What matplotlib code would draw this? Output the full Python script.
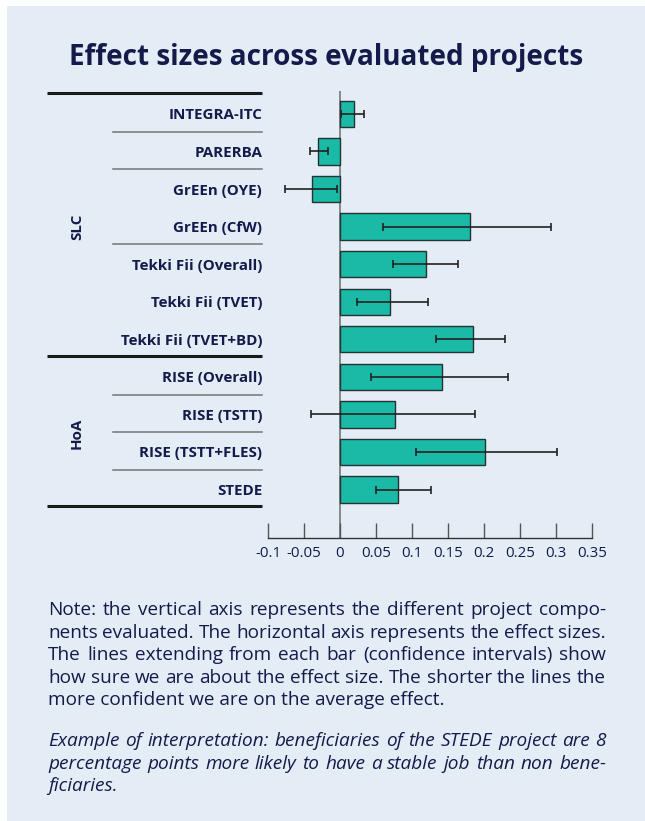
import numpy as np
import matplotlib
matplotlib.use('Agg')
import matplotlib.pyplot as plt
from matplotlib.patches import Rectangle
from matplotlib.transforms import blended_transform_factory

# data
labels = ['INTEGRA-ITC', 'PARERBA', 'GrEEn (OYE)', 'GrEEn (CfW)',
          'Tekki Fii (Overall)', 'Tekki Fii (TVET)', 'Tekki Fii (TVET+BD)',
          'RISE (Overall)', 'RISE (TSTT)', 'RISE (TSTT+FLES)', 'STEDE']
effect = [0.020, -0.030, -0.039, 0.180, 0.120, 0.070, 0.185, 0.141, 0.076, 0.201, 0.080]
ci_low = [0.001, -0.041, -0.076, 0.060, 0.074, 0.023, 0.134, 0.043, -0.040, 0.105, 0.050]
ci_high = [0.034, -0.016, -0.004, 0.293, 0.164, 0.122, 0.229, 0.233, 0.188, 0.301, 0.126]
group_names = ['SLC', 'HoA']
group_rows = [(0, 6), (7, 10)]
thin_after = [0, 1, 3, 7, 8, 9]      # thin separator lines below these rows
thick_after = [-1, 6, 10]            # thick lines
xticks = [-0.1, -0.05, 0, 0.05, 0.1, 0.15, 0.2, 0.25, 0.3, 0.35]
xtick_labels = ['-0.1', '-0.05', '0', '0.05', '0.1', '0.15', '0.2', '0.25', '0.3', '0.35']

title = 'Effect sizes across evaluated projects'
note_lines = [
    'Note: the vertical axis represents the different project compo-',
    'nents evaluated. The horizontal axis represents the effect sizes.',
    'The lines extending from each bar (confidence intervals) show',
    'how sure we are about the effect size. The shorter the lines the',
    'more confident we are on the average effect.',
]
example_lines = [
    'Example of interpretation: beneficiaries of the STEDE project are 8',
    'percentage points more likely to have a stable job than non bene-',
    'ficiaries.',
]

W, H = 645, 821
navy = '#141a4a'
teal = '#1abaa7'
bg = '#e4edf5'
plt.rcParams['font.family'] = ['Open Sans', 'Noto Sans', 'DejaVu Sans']

fig = plt.figure(figsize=(W / 100, H / 100), dpi=100)
fig.patches.append(Rectangle((7 / W, 0), 1, 1 - 6 / H, transform=fig.transFigure,
                             facecolor=bg, edgecolor='none', zorder=-10))

ax = fig.add_axes([268 / W, 1 - 538 / H, 324 / W, (538 - 91) / H])
ax.set_facecolor('none')
rows = np.arange(len(labels))
eff = np.array(effect)
err = [eff - np.array(ci_low), np.array(ci_high) - eff]

ax.barh(rows, eff, height=0.7, color=teal, edgecolor='#263232', linewidth=1.0, zorder=2)
ax.errorbar(eff, rows, xerr=err, fmt='none', ecolor='#222222', elinewidth=1.2,
            capsize=2.6, capthick=1.2, zorder=3)
ax.axvline(0, color='#6b6b6b', lw=1.1, zorder=1)

ax.set_xlim(-0.1, 0.35)
ax.set_ylim(11.29, -0.61)
ax.set_xticks(xticks, xtick_labels)
ax.set_yticks(rows, labels)
ax.tick_params(axis='x', direction='in', length=11, width=1, color='#555555',
               labelsize=10.8, labelcolor=navy, pad=6)
ax.tick_params(axis='y', length=0, pad=4.3, labelcolor=navy)
for t in ax.get_yticklabels():
    t.set_fontweight('bold')
    t.set_fontsize(10.9)
for s in ['left', 'top', 'right']:
    ax.spines[s].set_visible(False)
ax.spines['bottom'].set_color('#333333')
ax.spines['bottom'].set_linewidth(1)

trans = blended_transform_factory(fig.transFigure, ax.transData)
for r in thin_after:
    ax.plot([113 / W, 262 / W], [r + 0.47, r + 0.47], transform=trans, clip_on=False,
            color='#757575', lw=1.1)
for r in thick_after:
    yy = r + 0.45 if r >= 0 else -0.56
    ax.plot([46.5 / W, 262 / W], [yy, yy], transform=trans, clip_on=False,
            color='#1a1a1a', lw=2.2, solid_capstyle='butt')
for name, (a, b) in zip(group_names, group_rows):
    ax.text(77 / W, (a + b) / 2, name, transform=trans, rotation=90, ha='center',
            va='center', fontsize=10.9, fontweight='bold', color=navy)

fig.text(326.5 / W, 1 - 58 / H, title, ha='center', va='center', fontsize=20.1,
         fontweight='bold', color=navy)

# justified note paragraphs
renderer = fig.canvas.get_renderer()
x0, x1 = 48, 606
note_size = 13.7


def justify(lines, baselines, style):
    for k, (line, yb) in enumerate(zip(lines, baselines)):
        y = 1 - yb / H
        if k == len(lines) - 1:
            fig.text(x0 / W, y, line, va='baseline', ha='left', color=navy,
                     fontsize=note_size, style=style)
            continue
        words = line.split()
        texts = [fig.text(0, y, w, va='baseline', ha='left', color=navy,
                          fontsize=note_size, style=style) for w in words]
        widths = [t.get_window_extent(renderer).width for t in texts]
        gap = (x1 - x0 - sum(widths)) / (len(words) - 1)
        x = x0
        for t, w in zip(texts, widths):
            t.set_x(x / W)
            x += w + gap


justify(note_lines, [615, 637.5, 660, 682.5, 705], 'normal')
justify(example_lines, [746, 768.5, 791], 'italic')

fig.savefig('out.png', dpi=100, facecolor='white')
